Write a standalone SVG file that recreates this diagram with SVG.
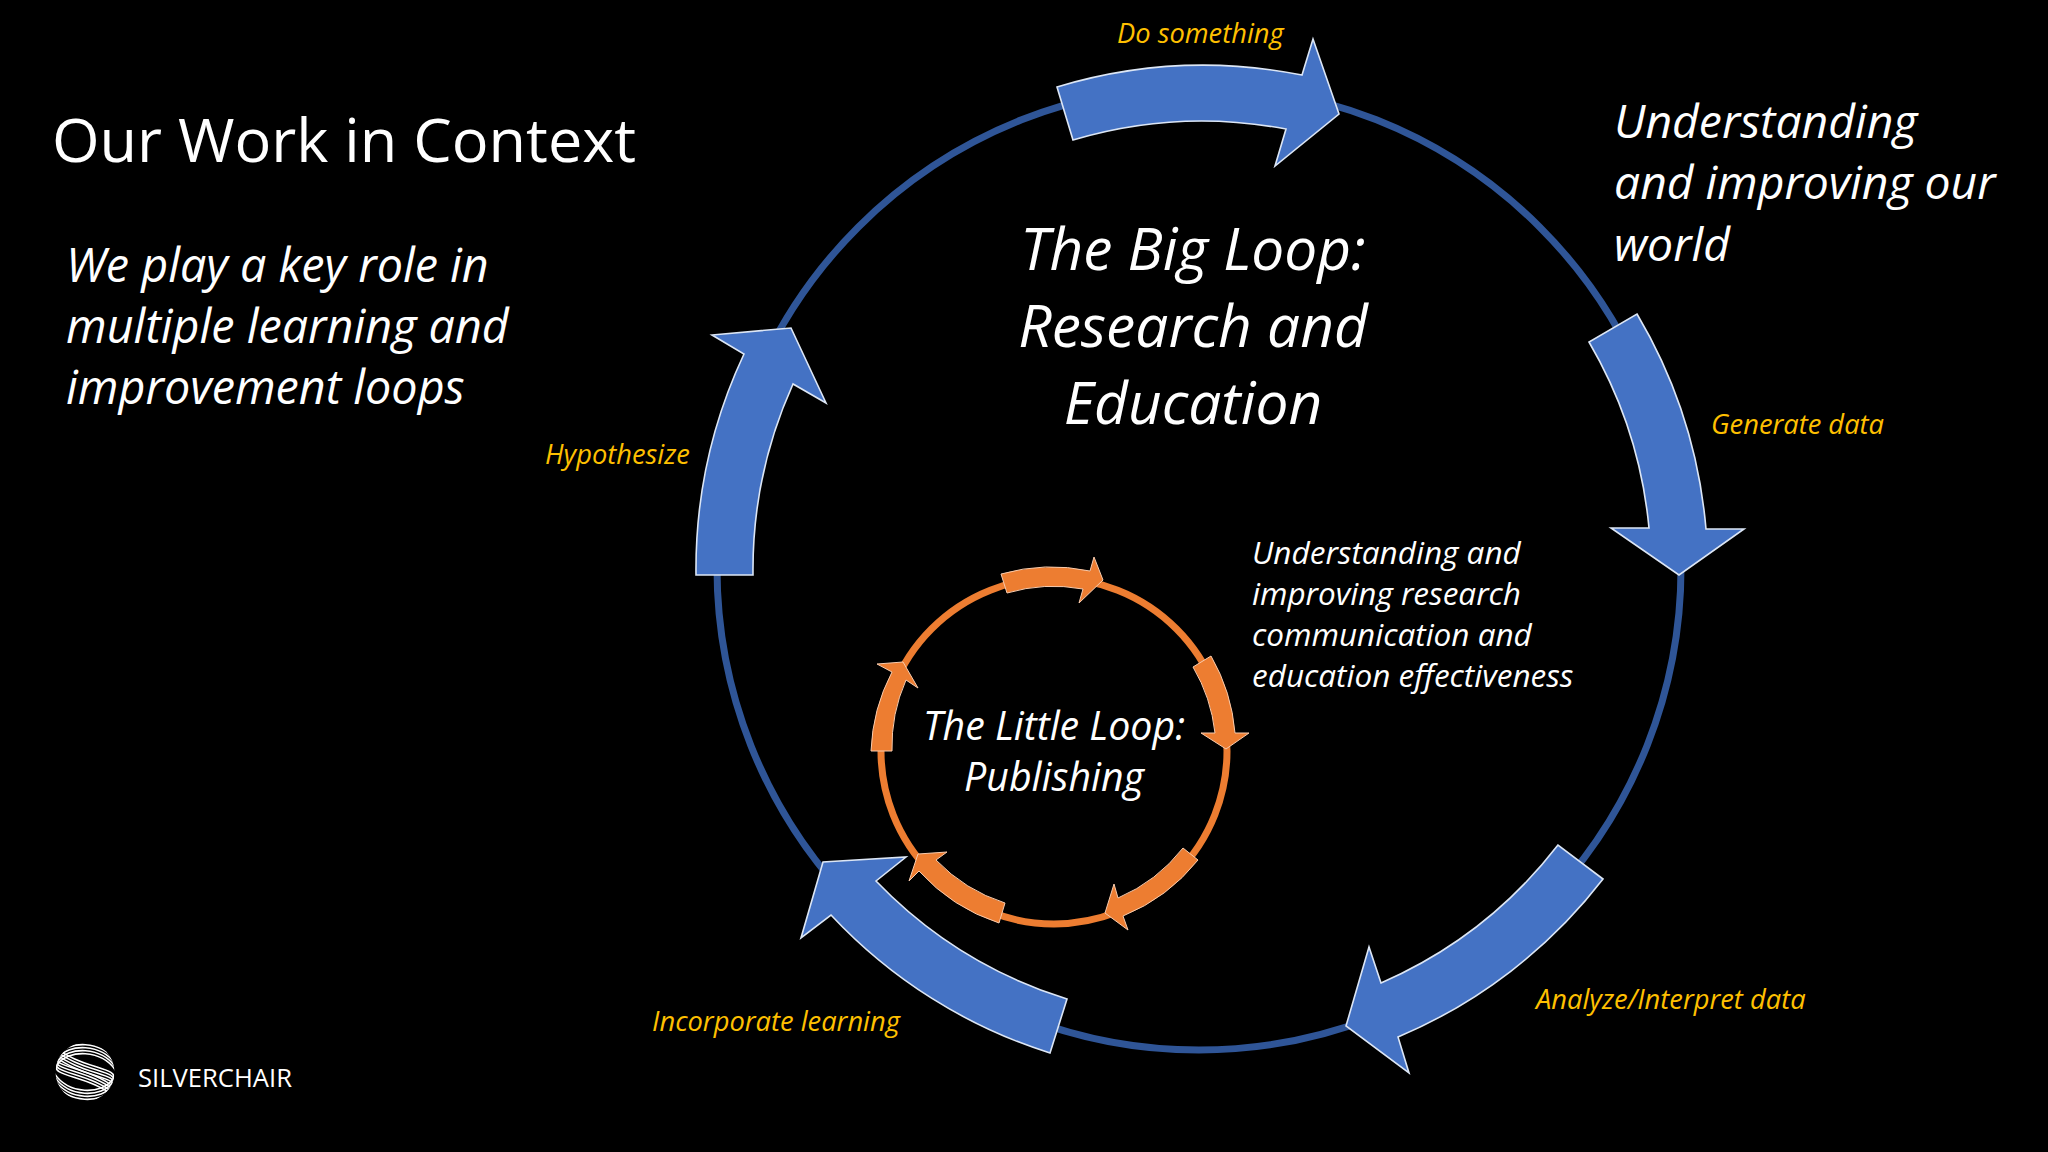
<svg xmlns="http://www.w3.org/2000/svg" width="2048" height="1152" viewBox="0 0 2048 1152">
<style>
text{font-family:"Open Sans","Noto Sans","Liberation Sans",sans-serif;fill:#fff}
.i{font-style:italic}
.g{font-style:italic;fill:#FFC000;font-size:27.3px}
.b{fill:#4472C4;stroke:#DCE6F5;stroke-width:1.6;stroke-linejoin:miter}
.o{fill:#ED7D31;stroke:#F8CBAD;stroke-width:1}
.c{text-anchor:middle}
.s{fill:none;stroke:#fff;stroke-width:1.6}
</style>
<defs>
<clipPath id="lc"><circle cx="85" cy="1072" r="29.5"/></clipPath>
<path id="sw" class="s" d="M116 1062C102 1040 68 1040 57 1056C50 1068 90 1066 118 1090"/>
<g id="fam">
<use href="#sw"/>
<use href="#sw" y="3"/>
<use href="#sw" y="6"/>
<use href="#sw" y="9"/>
</g>
</defs>
<rect width="2048" height="1152" fill="#000"/>
<g id="connectors" fill="none">
<circle cx="1199" cy="568" r="482" stroke="#2F5597" stroke-width="7"/>
<circle cx="1054" cy="751" r="173" stroke="#ED7D31" stroke-width="7"/>
</g>
<g id="title"><text x="52" y="162" font-size="61.200">Our Work in Context</text></g>
<g id="intro">
<text class="i" x="66" y="282" font-size="46.700">We play a key role in</text>
<text class="i" x="66" y="343" font-size="46.700">multiple learning and</text>
<text class="i" x="66" y="404" font-size="46.700">improvement loops</text>
</g>
<g id="world-note">
<text class="i" x="1614" y="138" font-size="46.300">Understanding</text>
<text class="i" x="1614" y="199" font-size="46.300">and improving our</text>
<text class="i" x="1614" y="261" font-size="46.300">world</text>
</g>
<g id="big-loop-label">
<text class="i c" x="1193" y="270" font-size="58.600">The Big Loop:</text>
<text class="i c" x="1193" y="347" font-size="58.600">Research and</text>
<text class="i c" x="1193" y="424" font-size="58.600">Education</text>
</g>
<g id="research-note">
<text class="i" x="1252" y="564" font-size="31.500">Understanding and</text>
<text class="i" x="1252" y="605" font-size="31.500">improving research</text>
<text class="i" x="1252" y="646" font-size="31.500">communication and</text>
<text class="i" x="1252" y="687" font-size="31.500">education effectiveness</text>
</g>
<g id="little-loop-label">
<text class="i c" x="1054" y="740" font-size="39.300">The Little Loop:</text>
<text class="i c" x="1054" y="791" font-size="39.300">Publishing</text>
</g>
<g id="do-something">
<path class="b" d="M1057 87A508 508 0 0 1 1302 75L1313 39L1339 114L1275 166L1286 129A452 452 0 0 0 1073 140Z"/>
<text class="g" x="1117" y="43">Do something</text>
</g>
<g id="generate-data">
<path class="b" d="M1637 314A508 508 0 0 1 1706 529L1744 529L1679 575L1611 528L1649 528A452 452 0 0 0 1589 342Z"/>
<text class="g" x="1711" y="434">Generate data</text>
</g>
<g id="analyze-data">
<path class="b" d="M1603 879A508 508 0 0 1 1398 1037L1409 1073L1346 1026L1369 947L1381 983A452 452 0 0 0 1558 845Z"/>
<text class="g" x="1536" y="1009">Analyze/Interpret data</text>
</g>
<g id="incorporate-learning">
<path class="b" d="M1050 1053A508 508 0 0 1 831 915L801 938L823 862L906 857L876 881A452 452 0 0 0 1067 999Z"/>
<text class="g" x="652" y="1031">Incorporate learning</text>
</g>
<g id="hypothesize">
<path class="b" d="M696 575A508 508 0 0 1 744 354L712 335L791 328L826 403L793 384A452 452 0 0 0 753 575Z"/>
<text class="g" x="545" y="464">Hypothesize</text>
</g>
<g id="little-arrow-1"><path class="o" d="M1001 574A185 185 0 0 1 1090 571L1094 557L1103 580L1079 603L1083 589A165 165 0 0 0 1007 593Z"/></g>
<g id="little-arrow-2"><path class="o" d="M1211 656A185 185 0 0 1 1235 733L1249 733L1226 749L1201 733L1215 733A165 165 0 0 0 1193 667Z"/></g>
<g id="little-arrow-3"><path class="o" d="M1198 860A185 185 0 0 1 1123 916L1128 930L1105 913L1114 884L1118 898A165 165 0 0 0 1183 848Z"/></g>
<g id="little-arrow-4"><path class="o" d="M999 923A185 185 0 0 1 919 871L909 881L918 854L947 852L936 860A165 165 0 0 0 1005 903Z"/></g>
<g id="little-arrow-5"><path class="o" d="M871 751A185 185 0 0 1 892 672L877 664L903 662L918 688L906 680A165 165 0 0 0 892 751Z"/></g>
<g id="logo">
<g clip-path="url(#lc)">
<use href="#fam"/>
<use href="#fam" transform="rotate(180 85 1072)"/>
</g>
<text x="138" y="1087" font-size="25.600">SILVERCHAIR</text>
</g>
</svg>
